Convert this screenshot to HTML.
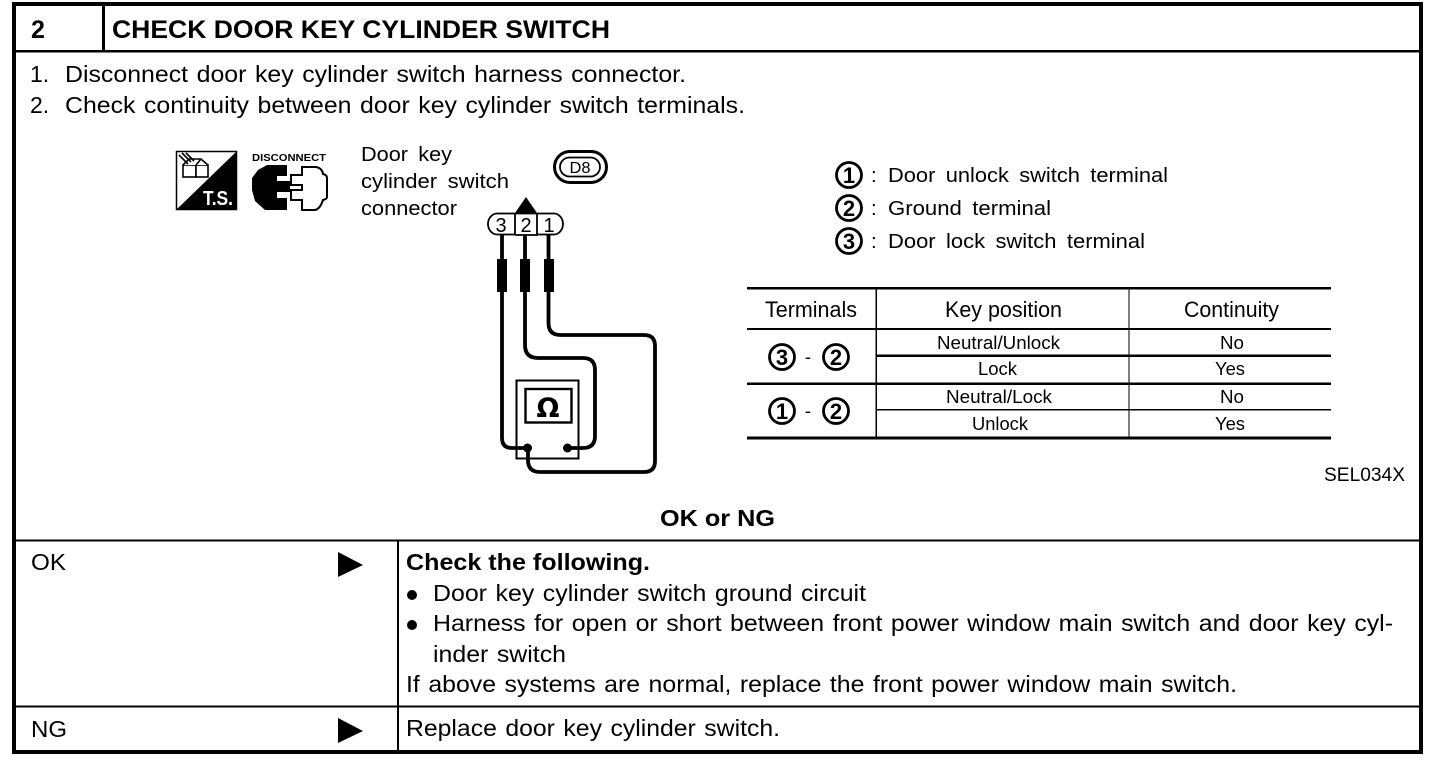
<!DOCTYPE html>
<html><head><meta charset="utf-8"><style>
html,body{margin:0;padding:0;background:#fff;width:1456px;height:768px;overflow:hidden}
svg{display:block}
text{font-family:"Liberation Sans",sans-serif;fill:#000}
.b{font-weight:bold}
.t{font-size:23px;word-spacing:1.500px}
.m{font-size:20.500px;word-spacing:4px}
.s{font-size:18.500px}
.h{font-size:22px}
.n{font-size:22px;font-weight:bold;text-anchor:middle}
.c{fill:#fff;stroke:#000;stroke-width:2.800}
</style></head><body>
<svg width="1456" height="768" viewBox="0 0 1456 768" xmlns="http://www.w3.org/2000/svg">
<!-- frame -->
<rect x="14" y="4" width="1407" height="748" fill="#fff" stroke="#000" stroke-width="4"/>
<rect x="102" y="4" width="3" height="47" fill="#000"/>
<rect x="14" y="50" width="1407" height="2.500" fill="#000"/>
<rect x="14" y="539.500" width="1407" height="2" fill="#000"/>
<rect x="14" y="705.500" width="1407" height="2" fill="#000"/>
<rect x="397" y="540" width="2" height="211" fill="#000"/>

<text class="b" x="31" y="38" font-size="25">2</text>
<text class="b" x="112" y="38" font-size="25" textLength="498" lengthAdjust="spacingAndGlyphs">CHECK DOOR KEY CYLINDER SWITCH</text>
<text class="t" x="30" y="82">1.</text>
<text class="t" x="65" y="82" textLength="621" lengthAdjust="spacingAndGlyphs">Disconnect door key cylinder switch harness connector.</text>
<text class="t" x="30" y="113">2.</text>
<text class="t" x="65" y="113" textLength="680" lengthAdjust="spacingAndGlyphs">Check continuity between door key cylinder switch terminals.</text>

<!-- T.S. icon -->
<rect x="176.500" y="151.500" width="60" height="58" fill="#fff" stroke="#000" stroke-width="1.500"/>
<polygon points="237,151 237,210 176,210" fill="#000"/>
<text x="203" y="205" font-size="20" font-weight="bold" style="fill:#fff" textLength="30" lengthAdjust="spacingAndGlyphs">T.S.</text>
<g fill="#fff" stroke="#000" stroke-width="1.600">
<rect x="183" y="165" width="13" height="12"/><rect x="196" y="165" width="12" height="12"/>
<path d="M183 165l6-6h12l7 6M196 165l5-6"/>
<path d="M179 155l9 9M182 153l9 9M186 153l8 8" fill="none"/>
</g>

<!-- disconnect icon -->
<text x="252" y="161" font-size="10" font-weight="bold" textLength="74" lengthAdjust="spacingAndGlyphs">DISCONNECT</text>
<path d="M267 165H287V176H277V181H290V192H277V198H287V210H265L255 201L252 190V178L258 170Z" fill="#000"/>
<path d="M302 167H316Q322 168 323 174Q327 175 327 178V197Q327 199 323 200Q320 209 315 210H302V200H291V190H302V185H291V175H302Z" fill="#fff" stroke="#000" stroke-width="2"/>

<!-- connector label -->
<text class="m" x="361" y="161" textLength="91" lengthAdjust="spacingAndGlyphs">Door key</text>
<text class="m" x="361" y="188" textLength="148" lengthAdjust="spacingAndGlyphs">cylinder switch</text>
<text class="m" x="361" y="215" textLength="96" lengthAdjust="spacingAndGlyphs">connector</text>

<!-- D8 -->
<rect x="554.500" y="151.500" width="52" height="31" rx="15.500" fill="#fff" stroke="#000" stroke-width="3"/>
<rect x="560" y="157.500" width="40" height="19" rx="9.500" fill="#fff" stroke="#000" stroke-width="1.800"/>
<text x="580" y="173" font-size="16" text-anchor="middle" textLength="21" lengthAdjust="spacingAndGlyphs">D8</text>

<!-- connector -->
<polygon points="526,197 537,213 515,213" fill="#000"/>
<path d="M515 213.500H497c-5 0-9 5-9 10.500s4 10.500 9 10.500H515V213.500H537V235H515M537 213.500H554c5 0 9 5 9 10.500s-4 10.500-9 10.500H537" fill="#fff" stroke="#000" stroke-width="1.800"/>
<text x="501" y="232" font-size="20" text-anchor="middle">3</text>
<text x="526" y="232" font-size="20" text-anchor="middle">2</text>
<text x="549" y="232" font-size="20" text-anchor="middle">1</text>

<!-- wires -->
<g fill="none" stroke="#000" stroke-width="3.800">
<path d="M502 235V438q0 10 10 10H527"/>
<path d="M525 235V345q0 13 13 13H583q12 0 12 12V436q0 12-12 12H567"/>
<path d="M548.500 235V323q0 12 12 12H644q11 0 11 11V461q0 11-11 11H540q-12 0-12-12V448"/>
</g>
<rect x="497" y="259" width="10" height="33" fill="#000"/>
<rect x="520" y="259" width="10" height="33" fill="#000"/>
<rect x="544" y="259" width="10" height="33" fill="#000"/>

<!-- meter -->
<rect x="516.500" y="380.500" width="62" height="78" fill="none" stroke="#000" stroke-width="2"/>
<rect x="525.500" y="389" width="46" height="33.500" fill="#fff" stroke="#000" stroke-width="2.400"/>
<text x="548" y="417" font-size="27" font-weight="bold" text-anchor="middle" style="font-family:'DejaVu Sans','Liberation Sans',sans-serif">Ω</text>
<circle cx="527.500" cy="448" r="4.500" fill="#000"/>
<circle cx="567.500" cy="448" r="4.500" fill="#000"/>

<!-- legend -->
<circle class="c" cx="849" cy="175" r="12.500"/><text class="n" x="849" y="183">1</text>
<circle class="c" cx="849" cy="208" r="12.500"/><text class="n" x="849" y="216">2</text>
<circle class="c" cx="849" cy="241" r="12.500"/><text class="n" x="849" y="249">3</text>
<text class="m" x="871" y="182">:</text><text class="m" x="888" y="182" textLength="280" lengthAdjust="spacingAndGlyphs">Door unlock switch terminal</text>
<text class="m" x="871" y="215">:</text><text class="m" x="888" y="215" textLength="163" lengthAdjust="spacingAndGlyphs">Ground terminal</text>
<text class="m" x="871" y="248">:</text><text class="m" x="888" y="248" textLength="257" lengthAdjust="spacingAndGlyphs">Door lock switch terminal</text>

<!-- table -->
<g fill="#000">
<rect x="747" y="287" width="584" height="2.500"/>
<rect x="747" y="328" width="584" height="2"/>
<rect x="876" y="354.500" width="455" height="2.500"/>
<rect x="747" y="382.500" width="584" height="2.500"/>
<rect x="876" y="409" width="455" height="1.500"/>
<rect x="747" y="436.500" width="584" height="3"/>
<rect x="875.500" y="288" width="1.500" height="150"/>
<rect x="1128.500" y="288" width="1" height="150"/>
</g>
<text class="h" x="765" y="317" textLength="92" lengthAdjust="spacingAndGlyphs">Terminals</text>
<text class="h" x="945" y="317" textLength="117" lengthAdjust="spacingAndGlyphs">Key position</text>
<text class="h" x="1184" y="317" textLength="95" lengthAdjust="spacingAndGlyphs">Continuity</text>
<text class="s" x="937" y="349" textLength="123" lengthAdjust="spacingAndGlyphs">Neutral/Unlock</text>
<text class="s" x="978" y="375" textLength="39" lengthAdjust="spacingAndGlyphs">Lock</text>
<text class="s" x="946" y="403" textLength="106" lengthAdjust="spacingAndGlyphs">Neutral/Lock</text>
<text class="s" x="972" y="430" textLength="56" lengthAdjust="spacingAndGlyphs">Unlock</text>
<text class="s" x="1220" y="349" textLength="24" lengthAdjust="spacingAndGlyphs">No</text>
<text class="s" x="1215" y="375" textLength="30" lengthAdjust="spacingAndGlyphs">Yes</text>
<text class="s" x="1220" y="403" textLength="24" lengthAdjust="spacingAndGlyphs">No</text>
<text class="s" x="1215" y="430" textLength="30" lengthAdjust="spacingAndGlyphs">Yes</text>
<circle class="c" cx="782" cy="357" r="12.500"/><text class="n" x="782" y="365">3</text>
<circle class="c" cx="836" cy="357" r="12.500"/><text class="n" x="836" y="365">2</text>
<circle class="c" cx="782" cy="411" r="12.500"/><text class="n" x="782" y="419">1</text>
<circle class="c" cx="836" cy="411" r="12.500"/><text class="n" x="836" y="419">2</text>
<text class="s" x="808" y="363" text-anchor="middle">-</text>
<text class="s" x="808" y="417" text-anchor="middle">-</text>

<text x="1324" y="481" font-size="19" textLength="81" lengthAdjust="spacingAndGlyphs">SEL034X</text>
<text class="b" font-size="23" x="660" y="526" textLength="115" lengthAdjust="spacingAndGlyphs">OK or NG</text>

<!-- results -->
<text class="t" x="31" y="570" textLength="35" lengthAdjust="spacingAndGlyphs">OK</text>
<polygon points="338,552 363,565 338,577" fill="#000"/>
<text class="t" x="31" y="737" textLength="36" lengthAdjust="spacingAndGlyphs">NG</text>
<polygon points="338,718 363,731 338,743" fill="#000"/>
<text class="b" font-size="23" x="406" y="570" textLength="244" lengthAdjust="spacingAndGlyphs">Check the following.</text>
<circle cx="412" cy="595" r="5" fill="#000"/>
<circle cx="412" cy="625" r="5" fill="#000"/>
<text class="t" x="433" y="601" textLength="433" lengthAdjust="spacingAndGlyphs">Door key cylinder switch ground circuit</text>
<text class="t" x="433" y="631" textLength="960" lengthAdjust="spacingAndGlyphs">Harness for open or short between front power window main switch and door key cyl-</text>
<text class="t" x="433" y="662" textLength="133" lengthAdjust="spacingAndGlyphs">inder switch</text>
<text class="t" x="406" y="692" textLength="831" lengthAdjust="spacingAndGlyphs">If above systems are normal, replace the front power window main switch.</text>
<text class="t" x="406" y="736" textLength="374" lengthAdjust="spacingAndGlyphs">Replace door key cylinder switch.</text>
</svg>
</body></html>
